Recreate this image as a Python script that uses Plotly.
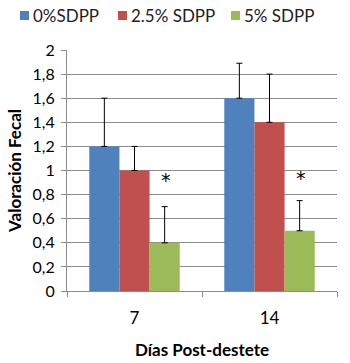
import plotly.graph_objects as go

categories = ["7", "14"]
series_names = ["0%SDPP", "2.5% SDPP", "5% SDPP"]
values_0 = [1.2, 1.6]
values_25 = [1.0, 1.4]
values_5 = [0.4, 0.5]
err_0 = [0.4, 0.29]
err_25 = [0.2, 0.4]
err_5 = [0.3, 0.25]
star_y = [0.92, 0.94]
colors = ["#4F81BD", "#C0504D", "#9BBB59"]

W, H = 350, 363
ML, MR, MT, MB = 67, 13, 50, 72

fig = go.Figure()
for name, vals, errs, col in zip(series_names, [values_0, values_25, values_5],
                                 [err_0, err_25, err_5], colors):
    fig.add_trace(go.Bar(
        x=categories, y=vals, name=name, marker=dict(color=col, line=dict(width=0)),
        error_y=dict(type="data", array=errs, symmetric=False,
                     color="black", thickness=1, width=3),
        showlegend=False,
    ))

for i, sy in enumerate(star_y):
    fig.add_annotation(x=i, y=sy, text="*", showarrow=False, xshift=31,
                       font=dict(size=19, color="black", family="DejaVu Sans"))

# manual legend (pixel positions converted to paper coords)
def px(x):
    return (x - ML) / (W - ML - MR)

def py(y):
    return 1 - (y - MT) / (H - MT - MB)

legend_sq_x = [20, 118, 231]
for name, col, sx in zip(series_names, colors, legend_sq_x):
    fig.add_shape(type="rect", xref="paper", yref="paper",
                  x0=px(sx), x1=px(sx + 9), y0=py(20), y1=py(11),
                  fillcolor=col, line=dict(width=0))
    fig.add_annotation(xref="paper", yref="paper", x=px(sx + 11), y=py(15.5),
                       text=name, showarrow=False, xanchor="left", yanchor="middle",
                       font=dict(size=17, color="#222", family="Lato"))

fig.update_layout(
    width=W, height=H,
    margin=dict(l=ML, r=MR, t=MT, b=MB),
    paper_bgcolor="white", plot_bgcolor="white",
    separators=", ",
    barmode="group", bargap=0.33, bargroupgap=0,
    font=dict(family="Lato", size=16, color="black"),
    showlegend=False,
)
fig.update_yaxes(range=[0, 2], dtick=0.2, tick0=0, showgrid=True, gridcolor="#8c8c8c",
                 gridwidth=1, showline=True, linecolor="#8c8c8c", ticks="outside",
                 ticklen=5, tickcolor="#8c8c8c", zeroline=False, ticklabelstandoff=3,
                 automargin=False,
                 title=dict(text="<b>Valoración Fecal</b>", font=dict(size=17), standoff=6),
                 tickfont=dict(size=16))
fig.update_xaxes(type="category", range=[-0.5, 1.5], showline=True, linecolor="#8c8c8c",
                 ticks="outside", tickson="boundaries", ticklen=5, tickcolor="#8c8c8c",
                 ticklabelstandoff=12, automargin=False,
                 title=dict(text="<b>Días Post-destete</b>", font=dict(size=17), standoff=16),
                 tickfont=dict(size=17))

fig.write_html("out.html")
